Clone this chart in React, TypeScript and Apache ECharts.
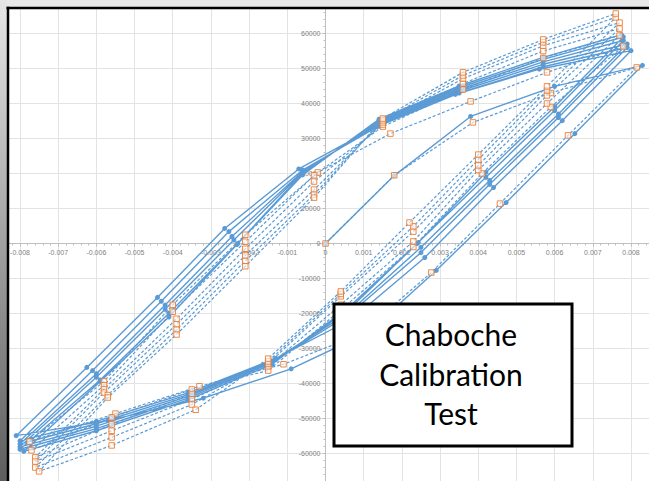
import React, { useEffect, useRef } from "react";
import * as echarts from "echarts";

type Pt = [number, number];

// ---- Test data (solid line, round markers): strain, stress ----
const testLoading: Pt[] = [[0, 0], [0.0018, 19400], [0.0038, 36300], [0.006, 44900], [0.0083, 50900]];
const testCycle1: Pt[] = [
  [0.00653, 31400], [0.00473, 11700], [0.0029, -7700], [0.0011, -25500], [-0.0009, -35800], [-0.0032, -44200], [-0.0057, -50600], [-0.0081, -54900],
  [-0.00625, -35400], [-0.0044, -15400], [-0.00264, 4300], [-0.0007, 21300], [0.0013, 33200], [0.0034, 42600], [0.0056, 49800], [0.008, 55100],
];
const testCycle2: Pt[] = [
  [0.0062, 35100], [0.0044, 16000], [0.0026, -4000], [0.0007, -21500], [-0.0013, -32800], [-0.0036, -42700], [-0.006, -50800], [-0.008, -56400],
  [-0.0061, -36300], [-0.0043, -16500], [-0.00253, 3400], [-0.0006, 21000], [0.0014, 33600], [0.0035, 43000], [0.0057, 50500], [0.0079, 56000],
];
const testCycle3: Pt[] = [
  [0.0061, 36000], [0.0043, 16900], [0.0025, -2600], [0.0006, -20500], [-0.0013, -33200], [-0.0036, -43200], [-0.006, -51500], [-0.008, -57300],
  [-0.006, -37200], [-0.0042, -17600], [-0.00245, 2000], [-0.0006, 20600], [0.0014, 34000], [0.0035, 43500], [0.0057, 51200], [0.0079, 57000],
];
const testCycle4: Pt[] = [
  [0.0061, 37000], [0.0043, 18000], [0.0025, -1100], [0.0006, -19800], [-0.0014, -33600], [-0.0036, -43700], [-0.006, -52200], [-0.008, -58100],
  [-0.006, -38200], [-0.0042, -18800], [-0.0024, 1000], [-0.0006, 20300], [0.0014, 34500], [0.0035, 44000], [0.0057, 51900], [0.0078, 58000],
];
const testCycle5: Pt[] = [
  [0.006, 38000], [0.0042, 18900], [0.0024, 0], [0.0006, -19000], [-0.0014, -34000], [-0.0036, -44200], [-0.006, -52900], [-0.008, -58800],
  [-0.0059, -39000], [-0.0041, -19900], [-0.0023, 0], [-0.0006, 20000], [0.0014, 35000], [0.0035, 44500], [0.0057, 52600], [0.0078, 59000],
];
const testCycle6: Pt[] = [
  [0.006, 39100], [0.0042, 20300], [0.00243, 300], [0.0006, -18300], [-0.0014, -34500], [-0.0036, -44700], [-0.006, -53500], [-0.0079, -59400],
  [-0.0059, -39400], [-0.0041, -21000], [-0.00232, -300], [-0.0006, 19600], [0.0014, 35500], [0.0035, 45000], [0.0057, 53200], [0.00775, 59700],
];

// ---- Chaboche model (dashed line, square markers): strain, stress ----
const simLoading: Pt[] = [[0, 0], [0.0018, 19500], [0.00386, 34600], [0.0059, 43000], [0.00815, 50300]];
const simCycle1: Pt[] = [
  [0.00635, 30900], [0.00457, 11400], [0.00277, -8300], [0.0009, -26000], [-0.0011, -34500], [-0.0033, -40800], [-0.0055, -48600], [-0.00775, -56600],
  [-0.0058, -39400], [-0.004, -17500], [-0.0021, 2500], [-0.0002, 20300], [0.0017, 31400], [0.0038, 40600], [0.0058, 48900], [0.0078, 56300],
];
const simCycle2: Pt[] = [
  [0.0059, 39000], [0.0041, 20000], [0.0023, -1000], [0.0004, -19000], [-0.0015, -36300], [-0.0035, -41700], [-0.0056, -49700], [-0.0077, -59100],
  [-0.0058, -40500], [-0.004, -19500], [-0.0021, 500], [-0.0003, 19500], [0.0015, 33400], [0.0036, 44000], [0.0057, 53000], [0.0077, 59400],
];
const simCycle3: Pt[] = [
  [0.0058, 40000], [0.004, 21000], [0.0023, 600], [0.0004, -17500], [-0.0015, -35100], [-0.0035, -43000], [-0.0056, -51700], [-0.0076, -61100],
  [-0.0058, -41600], [-0.0039, -21500], [-0.0021, -1500], [-0.0003, 17700], [0.0015, 34000], [0.0036, 45700], [0.0057, 55000], [0.0077, 61400],
];
const simCycle4: Pt[] = [
  [0.0058, 42300], [0.004, 22300], [0.0023, 3400], [0.0004, -15100], [-0.0015, -34300], [-0.0035, -44500], [-0.0056, -53500], [-0.0076, -62300],
  [-0.0058, -42600], [-0.0039, -23100], [-0.0021, -3400], [-0.0003, 15400], [0.0015, 34600], [0.0036, 47100], [0.0057, 56500], [0.0077, 63100],
];
const simCycle5: Pt[] = [
  [0.0058, 43700], [0.004, 24000], [0.0023, 4900], [0.0004, -14400], [-0.0015, -33700], [-0.0035, -46000], [-0.0056, -55400], [-0.0076, -64000],
  [-0.0057, -43300], [-0.0039, -24600], [-0.0021, -5000], [-0.0003, 14000], [0.0015, 35200], [0.0036, 48000], [0.0057, 57500], [0.0076, 64600],
];
const simCycle6: Pt[] = [
  [0.0058, 44900], [0.004, 25400], [0.0022, 6000], [0.0004, -13700], [-0.0015, -32900], [-0.0034, -47500], [-0.0056, -57700], [-0.0075, -65100],
  [-0.0057, -44000], [-0.0039, -26000], [-0.0021, -6500], [-0.0003, 13100], [0.0015, 35700], [0.0036, 48900], [0.0057, 58300], [0.0076, 65700],
];

const titleLines = ["Chaboche", "Calibration", "Test"];

const BLUE = "#5B9BD5";
const ORANGE = "#ED7D31";

// plot geometry (pixels)
const GRID_LEFT = -18.2;
const GRID_TOP = -1.5;
const GRID_W = 687.4;
const GRID_H = 490;

export default function App() {
  const ref = useRef<HTMLDivElement>(null);

  useEffect(() => {
    const chart = echarts.init(ref.current!, null, { renderer: "svg" });

    const testData = [...testLoading, ...testCycle1, ...testCycle2, ...testCycle3, ...testCycle4, ...testCycle5, ...testCycle6];
    const simData = [...simLoading, ...simCycle1, ...simCycle2, ...simCycle3, ...simCycle4, ...simCycle5, ...simCycle6];

    const axisLabelStyle = {
      fontSize: 7,
      color: "#7f7f7f",
      fontFamily: "Liberation Sans, Arial, sans-serif",
      showMinLabel: false,
      showMaxLabel: false,
    };

    // the axes cross at the origin: shift each one from its grid edge
    const xMin = -0.009, xMax = 0.009, yMin = -70000, yMax = 70000;
    const yAxisOffset = -((0 - xMin) / (xMax - xMin)) * GRID_W;
    const xAxisOffset = -((0 - yMin) / (yMax - yMin)) * GRID_H;

    chart.setOption({
      animation: false,
      backgroundColor: "#ffffff",
      grid: { left: GRID_LEFT, top: GRID_TOP, width: GRID_W, height: GRID_H, outerBoundsMode: "none", containLabel: false },
      xAxis: {
        type: "value",
        min: xMin,
        max: xMax,
        interval: 0.001,
        position: "bottom",
        offset: xAxisOffset,
        axisLine: { onZero: false, lineStyle: { color: "#bfbfbf", width: 1 } },
        axisTick: { show: true, length: 3, lineStyle: { color: "#bfbfbf" } },
        minorTick: { show: true, splitNumber: 5, length: 2, lineStyle: { color: "#bfbfbf" } },
        axisLabel: { ...axisLabelStyle, margin: 5, formatter: (v: number) => (v === 0 ? "0" : v.toFixed(3)) },
        splitLine: { show: true, lineStyle: { color: "#e3e3e3", width: 1 } },
      },
      yAxis: {
        type: "value",
        min: yMin,
        max: yMax,
        interval: 10000,
        position: "left",
        offset: yAxisOffset,
        axisLine: { onZero: false, lineStyle: { color: "#bfbfbf", width: 1 } },
        axisTick: { show: true, length: 3, lineStyle: { color: "#bfbfbf" } },
        minorTick: { show: true, splitNumber: 5, length: 2, lineStyle: { color: "#bfbfbf" } },
        axisLabel: { ...axisLabelStyle, margin: 5, formatter: (v: number) => String(v) },
        splitLine: { show: true, lineStyle: { color: "#e3e3e3", width: 1 } },
      },
      series: [
        {
          name: "Test",
          type: "line",
          data: testData,
          symbol: "circle",
          symbolSize: 5,
          lineStyle: { color: BLUE, width: 1.4 },
          itemStyle: { color: BLUE },
          z: 2,
        },
        {
          name: "Chaboche",
          type: "line",
          data: simData,
          symbol: "rect",
          symbolSize: 5.5,
          lineStyle: { color: BLUE, width: 1.2, type: [3, 2] },
          itemStyle: { color: "rgba(255,255,255,0.6)", borderColor: ORANGE, borderWidth: 0.9 },
          z: 3,
        },
      ],
      graphic: [
        {
          type: "rect",
          z: 100,
          shape: { x: 0, y: 0, width: 649, height: 7 },
          style: { fill: "#e8e8e8" },
        },
        {
          type: "rect",
          z: 100,
          shape: { x: 0, y: 0, width: 7, height: 481 },
          style: {
            fill: new echarts.graphic.LinearGradient(0, 0, 0, 1, [
              { offset: 0, color: "#e6e6e6" },
              { offset: 1, color: "#5e5e5e" },
            ]),
          },
        },
        {
          type: "line",
          z: 101,
          shape: { x1: 6.5, y1: 8, x2: 649, y2: 8 },
          style: { stroke: "#000", lineWidth: 2.5 },
        },
        {
          type: "line",
          z: 101,
          shape: { x1: 8, y1: 6.8, x2: 8, y2: 481 },
          style: { stroke: "#000", lineWidth: 2.5 },
        },
        {
          type: "rect",
          z: 102,
          shape: { x: 334, y: 304, width: 238, height: 142 },
          style: { fill: "#ffffff", stroke: "#000000", lineWidth: 3 },
        },
        ...titleLines.map((t, i) => ({
          type: "text",
          z: 103,
          x: 451,
          y: 334 + i * 39.5,
          style: {
            text: t,
            fill: "#000",
            font: "30px Lato, 'Open Sans', sans-serif",
            align: "center",
            verticalAlign: "middle",
          },
        })),
      ],
    });

    return () => chart.dispose();
  }, []);

  return (
    <div
      ref={ref}
      style={{ position: "fixed", left: 0, top: 0, width: 649, height: 481, background: "#fff" }}
    />
  );
}
